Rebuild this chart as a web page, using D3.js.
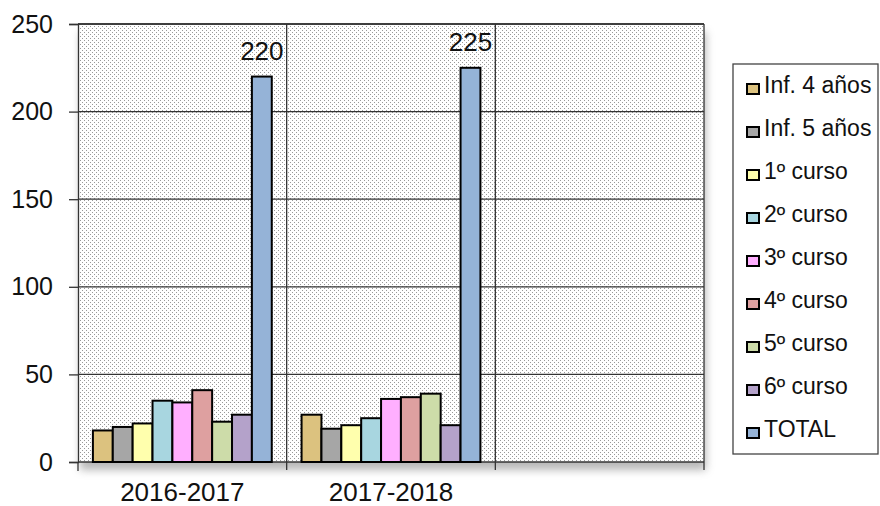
<!DOCTYPE html>
<html>
<head>
<meta charset="utf-8">
<script src="https://cdn.jsdelivr.net/npm/d3@7"></script>
<style>
  body { margin: 0; background: #fff; }
  text { font-family: "Liberation Sans", Arial, sans-serif; fill: #111; }
</style>
</head>
<body>
<svg id="chart" width="880" height="506"></svg>
<script>
// data
const categories = ['2016-2017', '2017-2018', ''];
const series = ['Inf. 4 años', 'Inf. 5 años', '1º curso', '2º curso', '3º curso',
                '4º curso', '5º curso', '6º curso', 'TOTAL'];
const values2016 = [18, 20, 22, 35, 34, 41, 23, 27, 220];
const values2017 = [27, 19, 21, 25, 36, 37, 39, 21, 225];
const yTicks = [0, 50, 100, 150, 200, 250];
const colors = ['#dcc27f', '#a6a6a6', '#ffffad', '#a8d6e0', '#ffafff',
                '#dea0a0', '#cddca9', '#b4a2ca', '#95b3d7'];

const valuesByCat = [values2016, values2017, []];

const svg = d3.select('#chart');
const plot = {left: 78, right: 704, top: 24, bottom: 462};

// dotted background pattern
const defs = svg.append('defs');
const pat = defs.append('pattern')
    .attr('id', 'dots')
    .attr('width', 4).attr('height', 4)
    .attr('patternUnits', 'userSpaceOnUse');
pat.append('rect').attr('width', 4).attr('height', 4).attr('fill', '#fff');
pat.append('rect').attr('x', 0).attr('y', 0).attr('width', 1).attr('height', 1).attr('fill', '#999');
pat.append('rect').attr('x', 2).attr('y', 2).attr('width', 1).attr('height', 1).attr('fill', '#999');

const blur = defs.append('filter').attr('id', 'shadow')
    .attr('x', '-10%').attr('y', '-10%').attr('width', '130%').attr('height', '130%');
blur.append('feGaussianBlur').attr('stdDeviation', 4);

const x0 = d3.scaleBand()
    .domain(d3.range(categories.length))
    .range([plot.left, plot.right]);
const x1 = d3.scaleBand()
    .domain(series)
    .range([0, x0.bandwidth()])
    .paddingOuter(0.75);
const y = d3.scaleLinear().domain([0, 250]).range([plot.bottom, plot.top]);

// shadow under the plot area
svg.append('rect')
    .attr('x', plot.left + 2).attr('y', plot.top + 8)
    .attr('width', plot.right - plot.left).attr('height', plot.bottom - plot.top)
    .attr('fill', '#999').attr('opacity', 0.7)
    .attr('filter', 'url(#shadow)');

svg.append('rect')
    .attr('x', plot.left).attr('y', plot.top)
    .attr('width', plot.right - plot.left).attr('height', plot.bottom - plot.top)
    .attr('fill', 'url(#dots)');

// gridlines
svg.append('g').selectAll('line')
    .data(yTicks.filter(d => d > 0))
    .join('line')
    .attr('x1', plot.left).attr('x2', plot.right)
    .attr('y1', d => y(d)).attr('y2', d => y(d))
    .attr('stroke', '#333').attr('stroke-width', 1.3);

// category separators
svg.append('g').selectAll('line')
    .data(d3.range(1, categories.length + 1))
    .join('line')
    .attr('x1', d => x0(d - 1) + x0.bandwidth()).attr('x2', d => x0(d - 1) + x0.bandwidth())
    .attr('y1', plot.top).attr('y2', plot.bottom + 8)
    .attr('stroke', '#333').attr('stroke-width', 1.3);

// y axis
const yAxis = svg.append('g')
    .attr('transform', `translate(${plot.left},0)`)
    .call(d3.axisLeft(y).tickValues(yTicks).tickSize(9).tickPadding(16));
yAxis.select('.domain').attr('stroke', '#333').attr('stroke-width', 1.3);
yAxis.selectAll('.tick line').attr('stroke', '#333').attr('stroke-width', 1.3);
yAxis.selectAll('.tick text')
    .style('font-family', '"Liberation Sans", Arial, sans-serif')
    .style('font-size', '25px').attr('fill', '#111');

// x axis
const xAxis = svg.append('g')
    .attr('transform', `translate(0,${plot.bottom})`)
    .call(d3.axisBottom(x0).tickSize(0).tickPadding(21).tickFormat(i => categories[i]));
xAxis.select('.domain').remove();
xAxis.selectAll('.tick text')
    .style('font-family', '"Liberation Sans", Arial, sans-serif')
    .style('font-size', '26px').attr('fill', '#111');
svg.append('line')
    .attr('x1', plot.left).attr('x2', plot.right)
    .attr('y1', plot.bottom).attr('y2', plot.bottom)
    .attr('stroke', '#333').attr('stroke-width', 1.3);
svg.append('line')
    .attr('x1', plot.left).attr('x2', plot.left)
    .attr('y1', plot.bottom).attr('y2', plot.bottom + 9)
    .attr('stroke', '#333').attr('stroke-width', 1.3);
svg.append('line')
    .attr('x1', plot.left).attr('x2', plot.right)
    .attr('y1', plot.top).attr('y2', plot.top)
    .attr('stroke', '#333').attr('stroke-width', 1.3);

// bars
const groups = svg.append('g').selectAll('g')
    .data(valuesByCat)
    .join('g')
    .attr('transform', (d, i) => `translate(${x0(i)},0)`);

groups.selectAll('rect')
    .data(d => d.map((v, j) => ({name: series[j], value: v, color: colors[j]})))
    .join('rect')
    .attr('x', d => x1(d.name))
    .attr('y', d => y(d.value))
    .attr('width', x1.bandwidth())
    .attr('height', d => y(0) - y(d.value))
    .attr('fill', d => d.color)
    .attr('stroke', '#000').attr('stroke-width', 2);

// labels on TOTAL bars
groups.selectAll('text.total')
    .data(d => d.length ? [d[d.length - 1]] : [])
    .join('text')
    .attr('class', 'total')
    .attr('x', x1('TOTAL') + x1.bandwidth() / 2)
    .attr('y', d => y(d) - 17)
    .attr('text-anchor', 'middle')
    .style('font-size', '26px')
    .text(d => d);

// legend
const legend = svg.append('g');
legend.append('rect')
    .attr('x', 733).attr('y', 64).attr('width', 145).attr('height', 390)
    .attr('fill', '#fff').attr('stroke', '#444').attr('stroke-width', 1.3);
const items = legend.selectAll('g.item')
    .data(series)
    .join('g')
    .attr('class', 'item')
    .attr('transform', (d, i) => `translate(0,${89 + i * 43})`);
items.append('rect')
    .attr('x', 747).attr('y', -5).attr('width', 12).attr('height', 10)
    .attr('fill', (d, i) => colors[i])
    .attr('stroke', '#000').attr('stroke-width', 2);
items.append('text')
    .attr('x', 764).attr('y', 4)
    .style('font-size', '23px')
    .text(d => d);
</script>
</body>
</html>
